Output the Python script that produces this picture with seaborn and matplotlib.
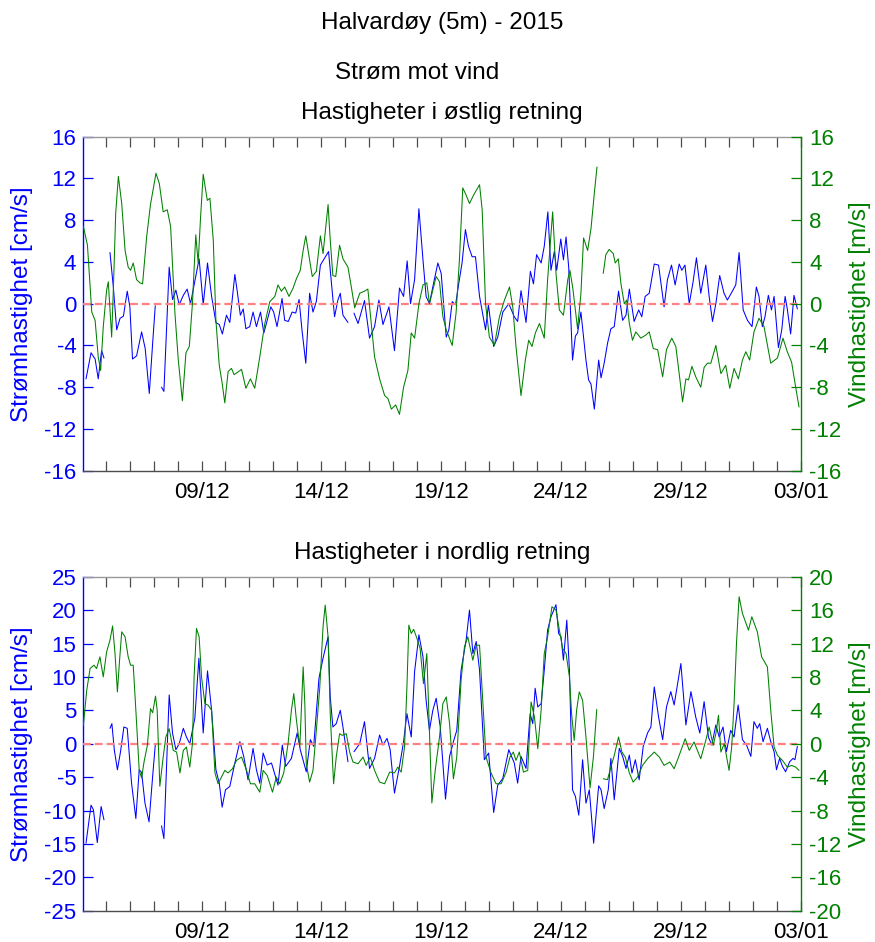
import numpy as np
import pandas as pd
import matplotlib
matplotlib.use("Agg")
import matplotlib.pyplot as plt
import matplotlib.dates as mdates
import seaborn as sns

START = pd.Timestamp("2015-12-04")
NAN = np.nan

# ---- Østlig retning: strøm (cm/s), tid i døgn etter START ----
tid_ost_strom = [0.18, 0.39, 0.56, 0.69, 0.83, 0.93, 1.05, 1.18, 1.32, 1.46, 1.60, 1.74, 1.90, 2.01, 2.12,
                 2.29, 2.50, 2.65, 2.82, 2.96, 3.07, 3.20, 3.33, 3.43, 3.65, 3.79, 3.93, 4.07, 4.24, 4.40,
                 4.54, 4.90, 5.07, 5.25, 5.42, 5.60, 5.74, 5.87, 6.04, 6.18, 6.39, 6.49, 6.62, 6.74, 6.85,
                 7.01, 7.15, 7.29, 7.46, 7.60, 7.74, 7.89, 8.01, 8.15, 8.36, 8.47, 8.62, 8.78, 8.93, 9.07,
                 9.19, 9.35, 9.51, 9.65, 9.79, 9.96, 10.30, 10.55, 10.69, 10.79, 10.90, 11.11, 11.22, 11.36,
                 11.53, 11.80, 12.01, 12.22, 12.40, 12.57, 12.82, 13.05, 13.26, 13.43, 13.58, 13.72, 13.89,
                 14.07, 14.24, 14.37, 14.51, 14.65, 14.86, 15.00, 15.21, 15.32, 15.46, 15.60, 15.73, 15.87,
                 16.01, 16.14, 16.29, 16.43, 16.60, 16.85, 16.97, 17.19, 17.36, 17.57, 17.82, 18.05, 18.19,
                 18.33, 18.54, 18.72, 18.85, 18.98, 19.17, 19.30, 19.45, 19.58, 19.72, 19.82, 19.99, 20.10,
                 20.21, 20.32, 20.48, 20.60, 20.69, 20.83, 21.04, 21.15, 21.25, 21.39, 21.57, 21.67, 21.80,
                 21.94, 22.08, 22.22, 22.40, 22.57, 22.71, 22.85, 23.05, 23.24, 23.37, 23.51, 23.68, 23.89,
                 24.07, 24.30, 24.44, 24.61, 24.76, 24.93, 25.04, 25.17, 25.35, 25.51, 25.65, 25.83, 26.04,
                 26.18, 26.32, 26.46, 26.62, 26.80, 26.94, 27.15, 27.29, 27.43, 27.60, 27.78, 27.97, 28.15,
                 28.26, 28.40, 28.51, 28.65, 28.78, 28.89, 29.07, 29.21, 29.35, 29.44, 29.58, 29.72, 29.86]
ost_strom = [-7.2, -4.7, -5.3, -7.2, -4.5, -5.2, NAN, 4.9, 1.6, -2.5, -1.4, -1.2, 1.2, -0.3, -5.3,
             -5.0, -2.7, -4.3, -8.6, -3.8, -0.2, NAN, -8.0, -8.4, 3.5, 0.4, 1.3, -0.1, 0.8, 1.4,
             0.0, 4.3, -0.1, 3.9, 0.7, -1.8, -2.0, -2.9, -1.1, -1.8, 2.8, 1.2, -1.1, -0.5, -2.4,
             -2.2, -0.8, -2.2, -0.8, -2.8, -1.6, -0.3, -0.8, -2.2, 0.5, -1.6, -1.7, -0.8, -0.9, 0.4,
             -2.5, -5.7, 1.0, -0.8, 0.2, 3.7, 5.0, -1.25, 0.35, 1.0, -1.1, -1.8, NAN, -0.9,
             -1.9, 0.3, -3.3, -2.2, 0.35, -2.0, -0.3, -4.5, 1.5, 0.7, 4.1, 0.0, 2.3,
             9.1, 4.2, 0.7, 0.0, 1.6, 3.9, 2.9, -3.2, -2.5, 0.2, -0.1, 1.9, 3.9,
             7.1, 5.5, 4.5, 4.5, 0.7, -2.5, -0.1, -4.1, -3.2, -0.8, 0.0, -1.25, -1.7,
             1.25, -1.8, 3.1, 1.9, 4.7, 3.9, 5.5, 8.8, 3.2, 5.0, 3.2, 6.2, 4.2,
             6.4, 3.5, -5.4, -3.1, -2.8, -0.8, -5.4, -7.3, -7.7, -10.1, -5.4, -7.1, -5.7,
             -3.8, -2.4, -2.2, 1.2, -1.6, -1.1, 1.4, -1.7, -0.6, -1.25, 0.7, 1.0, 3.8,
             3.7, -0.3, 2.3, 3.7, 1.8, 3.8, 3.2, 3.7, 0.0, 2.1, 4.4, 1.0, 3.7,
             0.7, -1.7, 0.0, 2.7, 1.0, 0.35, 1.2, 1.8, 4.9, -0.6, -1.6, -2.2, 1.6,
             0.7, -2.2, -1.25, 0.8, -0.6, 0.7, -4.2, -2.5, 0.7, -0.5, -2.9, 0.8, -0.5]

# ---- Østlig retning: vind (m/s) ----
tid_ost_vind = [0.07, 0.24, 0.42, 0.56, 0.69, 0.79, 0.90, 1.04, 1.11, 1.25, 1.32, 1.42, 1.53, 1.67, 1.81,
                1.94, 2.04, 2.15, 2.29, 2.43, 2.54, 2.71, 2.87, 3.10, 3.24, 3.40, 3.57, 3.71, 3.89, 4.03,
                4.20, 4.35, 4.49, 4.62, 4.76, 4.86, 4.96, 5.07, 5.24, 5.35, 5.49, 5.60, 5.74, 5.86, 5.97,
                6.11, 6.25, 6.36, 6.67, 6.85, 7.04, 7.22, 7.43, 7.64, 7.85, 8.06, 8.19, 8.33, 8.47, 8.65,
                8.82, 8.96, 9.12, 9.24, 9.35, 9.49, 9.62, 9.79, 9.96, 10.07, 10.28, 10.37, 10.48, 10.60,
                10.76, 10.90, 11.11, 11.25, 11.39, 11.60, 11.80, 11.94, 12.08, 12.22, 12.43, 12.64, 12.78,
                12.92, 13.10, 13.26, 13.43, 13.61, 13.75, 13.89, 14.07, 14.24, 14.40, 14.51, 14.65, 14.79,
                14.93, 15.07, 15.21, 15.46, 15.62, 15.76, 15.90, 16.04, 16.18, 16.35, 16.60, 16.71, 16.85,
                17.01, 17.22, 17.43, 17.64, 17.85, 17.99, 18.12, 18.33, 18.51, 18.65, 18.79, 18.93, 19.10,
                19.30, 19.44, 19.65, 19.79, 19.93, 20.10, 20.28, 20.37, 20.49, 20.69, 20.83, 20.94, 21.11,
                21.25, 21.39, 21.50, 21.62, 21.76, 21.87, 22.01, 22.18, 22.26, 22.39, 22.50, 22.64, 22.74,
                22.85, 22.98, 23.12, 23.33, 23.54, 23.68, 23.85, 24.03, 24.24, 24.40, 24.62, 24.79, 24.93,
                25.07, 25.21, 25.32, 25.46, 25.62, 25.83, 25.97, 26.11, 26.25, 26.46, 26.67, 26.87, 27.04,
                27.22, 27.40, 27.57, 27.71, 27.87, 28.05, 28.26, 28.47, 28.75, 29.03, 29.26, 29.44, 29.62,
                29.79, 29.93]
ost_vind = [7.4, 5.6, -0.8, -1.6, -5.1, -6.4, -2.2, 1.3, 2.1, -3.2, 1.3, 8.7, 12.2, 9.6, 5.1,
            3.5, 3.2, 3.9, 2.3, 2.0, 1.9, 6.4, 9.5, 12.5, 11.5, 8.8, 9.0, 7.4, -0.9, -5.4,
            -9.3, -4.7, -4.1, 0.0, 6.6, 3.9, 8.3, 12.4, 9.9, 10.1, 6.1, -1.6, -5.9, -7.6, -9.5,
            -6.5, -6.2, -6.8, -6.3, -8.1, -7.2, -8.1, -5.1, -1.9, 0.2, 0.7, 1.8, 1.2, 1.6, 0.7,
            1.5, 2.4, 3.2, 5.1, 6.5, 4.5, 2.6, 3.1, 6.5, 4.8, 9.5, 6.1, 2.7, 2.6,
            5.6, 4.3, 3.5, 1.6, -0.4, 1.0, 1.2, 1.4, -1.9, -5.1, -7.2, -8.8, -9.1,
            -10.1, -9.7, -10.6, -8.0, -6.4, -2.8, -3.3, 0.0, 1.8, 2.0, 0.0, 1.3, 2.6,
            2.1, -1.25, -2.5, -4.0, -0.9, 4.2, 11.1, 10.4, 9.6, 10.4, 11.4, 9.0, 0.0,
            -3.2, -4.0, -1.25, 0.35, 1.6, -0.4, -4.1, -8.8, -5.4, -3.5, -4.1, -2.8, -1.9,
            -3.3, 2.3, 8.8, 2.9, -0.6, -1.1, 2.3, 3.2, 1.5, -2.4, 1.0, 6.3, 5.1,
            7.2, 10.6, 13.1, NAN, 2.9, 4.7, 5.2, 4.8, 3.9, 4.3, 1.9, 0.0, 0.35,
            -1.9, -3.5, -2.7, -3.3, -3.0, -2.7, -4.3, -4.4, -7.0, -4.4, -3.3, -4.1, -6.7,
            -9.4, -7.2, -7.3, -6.0, -7.0, -8.0, -6.1, -5.7, -5.7, -4.0, -6.7, -5.9, -8.1,
            -6.2, -7.2, -5.4, -4.6, -5.4, -2.7, -1.4, -2.2, -5.7, -5.2, -3.3, -4.6, -5.6,
            -8.0, -9.9]

# ---- Nordlig retning: strøm (cm/s) ----
tid_nord_strom = [0.18, 0.39, 0.49, 0.65, 0.81, 0.93, 1.05, 1.18, 1.26, 1.36, 1.49, 1.62, 1.76, 1.90, 2.08,
                  2.26, 2.40, 2.50, 2.64, 2.81, 2.96, 3.07, 3.20, 3.33, 3.43, 3.65, 3.79, 3.93, 4.07, 4.24,
                  4.37, 4.51, 4.72, 4.89, 5.07, 5.25, 5.42, 5.60, 5.74, 5.86, 6.00, 6.18, 6.39, 6.60, 6.76,
                  6.94, 7.15, 7.29, 7.43, 7.57, 7.74, 7.92, 8.19, 8.37, 8.51, 8.75, 8.99, 9.12, 9.37, 9.54,
                  9.68, 9.90, 10.07, 10.28, 10.37, 10.48, 10.62, 10.79, 10.90, 11.11, 11.22, 11.36, 11.60,
                  11.80, 12.01, 12.22, 12.43, 12.57, 12.74, 12.87, 13.05, 13.26, 13.43, 13.57, 13.75, 13.89,
                  14.07, 14.24, 14.37, 14.51, 14.65, 14.79, 14.96, 15.18, 15.35, 15.51, 15.65, 15.83, 16.04,
                  16.18, 16.32, 16.46, 16.60, 16.80, 16.98, 17.19, 17.36, 17.57, 17.82, 18.05, 18.19, 18.33,
                  18.54, 18.71, 18.82, 18.92, 19.03, 19.17, 19.30, 19.44, 19.58, 19.79, 19.90, 20.00, 20.10,
                  20.24, 20.35, 20.48, 20.60, 20.74, 20.90, 21.04, 21.18, 21.36, 21.57, 21.67, 21.80, 21.97,
                  22.08, 22.22, 22.43, 22.57, 22.71, 22.85, 22.96, 23.10, 23.26, 23.43, 23.61, 23.75, 23.89,
                  24.07, 24.24, 24.40, 24.58, 24.72, 25.00, 25.21, 25.42, 25.62, 25.79, 25.97, 26.15, 26.29,
                  26.46, 26.60, 26.76, 26.90, 27.08, 27.22, 27.39, 27.57, 27.74, 27.92, 28.05, 28.19, 28.29,
                  28.43, 28.61, 28.75, 28.89, 28.99, 29.12, 29.24, 29.37, 29.54, 29.68, 29.76, 29.86]
nord_strom = [-14.9, -9.2, -9.9, -14.8, -9.4, -11.4, NAN, 2.3, 3.0, -0.9, -3.9, -1.2, 2.5, 2.3, -5.9,
              -11.2, -3.9, -4.3, -8.9, -11.7, -4.9, -0.2, NAN, -12.3, -14.2, 7.3, 1.6, -0.9, 0.0, 2.3,
              1.0, 0.0, 3.8, 12.8, 1.6, 10.9, 5.0, -3.9, -5.9, -9.5, -6.9, -6.4, -2.9, 0.3, -1.9,
              -5.4, -0.7, -3.9, -5.9, -1.4, -3.2, -2.9, -6.2, -0.2, -3.4, -2.2, 1.6, -0.9, -4.2, 0.6,
              -0.4, 9.8, 12.8, 16.0, 7.0, 2.5, 3.0, 5.0, 2.5, -2.7, NAN, -1.2, 0.0,
              3.3, -3.7, -2.2, 1.3, -0.2, 0.8, -0.9, -7.4, -3.4, 0.3, 4.5, 1.0, 10.8,
              16.3, 13.0, 6.5, 2.0, 5.0, 6.8, 2.5, -8.3, -1.9, 0.3, 2.0, 11.0, 15.5,
              20.0, 13.5, 15.3, 11.0, -2.4, -1.4, -10.3, -6.2, -5.2, -0.9, -2.9, -5.9, -1.9,
              -3.7, 4.5, 3.0, 8.3, 5.5, 6.0, 11.0, 17.0, 19.0, 20.8, 16.5, 16.0, 12.5,
              18.5, 11.0, -6.9, -7.9, -10.7, -2.4, -8.9, -6.9, -14.9, -6.3, -6.9, -9.7, -6.9,
              -2.2, -8.4, -0.7, -1.9, -3.7, -1.7, -4.4, -2.4, -5.4, -0.4, 1.6, 2.5, 8.5,
              4.0, 0.6, 5.5, 7.8, 5.8, 12.0, 2.8, 7.8, 4.0, 1.6, 6.3, 1.0, -0.2,
              2.8, 1.0, 2.5, -1.2, 2.0, 1.0, 5.8, 0.6, -0.2, -1.9, 3.3, 2.3, 3.0,
              0.3, 2.3, 0.3, -1.2, -3.9, -2.2, -3.4, -4.2, -2.7, -2.2, -2.4, -0.4]

# ---- Nordlig retning: vind (m/s) ----
tid_nord_vind = [0.07, 0.21, 0.35, 0.51, 0.62, 0.76, 0.90, 1.04, 1.18, 1.29, 1.39, 1.49, 1.57, 1.67, 1.81,
                 1.94, 2.04, 2.15, 2.26, 2.40, 2.50, 2.60, 2.74, 2.87, 2.96, 3.08, 3.15, 3.26, 3.40, 3.51,
                 3.65, 3.82, 3.96, 4.10, 4.24, 4.37, 4.51, 4.62, 4.69, 4.79, 4.90, 5.00, 5.14, 5.28, 5.42,
                 5.56, 5.69, 5.83, 5.97, 6.11, 6.29, 6.46, 6.67, 6.88, 7.04, 7.22, 7.43, 7.57, 7.74, 7.96,
                 8.12, 8.26, 8.43, 8.61, 8.75, 8.85, 8.96, 9.10, 9.24, 9.31, 9.37, 9.51, 9.65, 9.79, 9.93,
                 10.07, 10.16, 10.28, 10.37, 10.51, 10.62, 10.76, 10.87, 11.04, 11.18, 11.32, 11.53, 11.74,
                 11.87, 12.04, 12.22, 12.43, 12.64, 12.85, 13.05, 13.19, 13.33, 13.47, 13.57, 13.65, 13.75,
                 13.85, 13.99, 14.12, 14.26, 14.40, 14.51, 14.61, 14.75, 14.93, 15.07, 15.21, 15.35, 15.51,
                 15.65, 15.83, 15.97, 16.11, 16.32, 16.46, 16.60, 16.74, 16.87, 17.08, 17.29, 17.50, 17.71,
                 17.87, 18.01, 18.12, 18.26, 18.43, 18.61, 18.75, 18.89, 19.03, 19.17, 19.30, 19.44, 19.62,
                 19.79, 19.93, 20.07, 20.21, 20.35, 20.44, 20.55, 20.65, 20.76, 20.90, 21.04, 21.21, 21.35,
                 21.49, 21.62, 21.76, 21.94, 22.08, 22.22, 22.40, 22.54, 22.68, 22.85, 23.01, 23.19, 23.40,
                 23.61, 23.89, 24.10, 24.30, 24.54, 24.72, 24.93, 25.18, 25.35, 25.55, 25.83, 26.04, 26.18,
                 26.35, 26.46, 26.57, 26.67, 26.81, 27.01, 27.12, 27.22, 27.32, 27.43, 27.57, 27.82, 27.96,
                 28.19, 28.37, 28.61, 28.75, 28.89, 29.03, 29.24, 29.44, 29.62, 29.79, 29.93]
nord_vind = [2.2, 6.4, 9.0, 9.4, 9.0, 10.4, 8.0, 11.0, 12.4, 14.1, 10.8, 6.2, 9.6, 13.4, 12.8,
             10.4, 9.4, 9.4, 4.0, -3.2, -4.1, -2.2, -0.2, 4.2, 3.7, 5.7, 4.0, -5.1, -1.6, 0.8,
             1.8, -0.8, -1.0, -3.5, -0.8, -0.4, -2.8, 0.0, 8.0, 13.8, 12.8, 8.0, 4.8, 4.6, 4.0,
             -3.5, -4.8, -4.0, -3.2, -3.5, -3.0, -2.0, -1.6, -3.2, -4.8, -4.8, -5.8, -3.2, -3.8, -5.8,
             -4.0, -4.8, -3.5, 0.0, 4.0, 6.0, 2.8, -0.4, 9.2, 4.8, -2.4, -4.6, -3.2, 1.6, 6.6,
             14.0, 16.6, 12.8, 3.6, -4.8, -1.6, 1.2, 1.0, 1.2, -1.0, -2.2, -2.4, -1.6,
             -2.6, -1.6, -3.2, -4.6, -4.8, -3.4, -3.5, -2.8, -3.4, -0.4, 6.8, 14.2, 13.2,
             13.7, 12.6, 11.4, 7.2, 10.8, 1.6, -7.1, -3.2, 0.8, 4.8, 5.6, 2.4, -4.2,
             -1.6, 7.6, 11.6, 12.8, 10.0, 11.8, 11.8, 4.8, -1.6, -3.5, -4.8, -4.8, -3.4,
             -1.6, -1.0, -2.0, -1.0, -3.4, -3.2, 5.0, 3.2, -0.6, 4.0, 10.8, 12.8, 16.4,
             16.0, 13.6, 11.4, 10.8, 8.0, 3.6, 0.4, 4.0, 6.2, 5.2, 0.8, -5.3, -1.6,
             4.1, NAN, -4.2, -4.3, -2.8, -1.4, 0.8, -1.0, -1.6, -3.5, -4.6, -4.0, -2.6,
             -1.8, -1.0, -1.6, -2.6, -2.2, -3.0, -1.4, 0.6, -0.8, 0.2, -1.8, 0.4, 2.0,
             -0.2, 1.2, 3.4, -1.0, 0.0, -3.2, -0.4, 4.8, 12.0, 17.6, 15.6, 13.6, 15.2,
             13.4, 10.4, 9.2, 4.0, -0.4, -1.4, -2.0, -2.8, -2.6, -2.8, -3.2]

dato_etiketter = ["2015-12-09", "2015-12-14", "2015-12-19", "2015-12-24", "2015-12-29", "2016-01-03"]

BLA = "#0000ff"
GRONN = "#008000"
ROD = "#ff8080"


def serie(tid, verdi):
    """Build a frame with a segment id so that gaps (NaN) break the line."""
    df = pd.DataFrame({"tid": START + pd.to_timedelta(np.asarray(tid), unit="D"),
                       "verdi": np.asarray(verdi, dtype=float)})
    df["seg"] = df["verdi"].isna().cumsum()
    return df.dropna().reset_index(drop=True)


sns.set_style("white")
plt.rcParams["font.family"] = ["Liberation Sans", "DejaVu Sans"]
plt.rcParams["axes.unicode_minus"] = False
plt.rcParams["text.color"] = "black"

W, H = 875, 942
fig = plt.figure(figsize=(W / 100, H / 100), dpi=100)
fig.patch.set_facecolor("white")

L, R = 83.3, 800.7
paneler = [
    dict(top=136.7, bot=470.7, strom=serie(tid_ost_strom, ost_strom), vind=serie(tid_ost_vind, ost_vind),
         ylim_l=(-16, 16), ticks_l=np.arange(-16, 17, 4), ylim_r=(-16, 16), ticks_r=np.arange(-16, 17, 4),
         tittel="Hastigheter i østlig retning", tittel_y=119),
    dict(top=576.7, bot=910.7, strom=serie(tid_nord_strom, nord_strom), vind=serie(tid_nord_vind, nord_vind),
         ylim_l=(-25, 25), ticks_l=np.arange(-25, 26, 5), ylim_r=(-20, 20), ticks_r=np.arange(-20, 21, 4),
         tittel="Hastigheter i nordlig retning", tittel_y=559),
]

x0 = START + pd.Timedelta(days=0.067)
x1 = pd.Timestamp("2016-01-03")
major = [pd.Timestamp(d) for d in dato_etiketter]

TICK_FS = 16
LAB_FS = 17.5

for p in paneler:
    ax = fig.add_axes([L / W, 1 - p["bot"] / H, (R - L) / W, (p["bot"] - p["top"]) / H])
    ax2 = ax.twinx()

    sns.lineplot(data=p["strom"], x="tid", y="verdi", units="seg", estimator=None,
                 color=BLA, lw=0.75, ax=ax, legend=False)
    ax.axhline(0, color=ROD, lw=1.6, ls=(0, (3.5, 1.8)), zorder=3)
    sns.lineplot(data=p["vind"], x="tid", y="verdi", units="seg", estimator=None,
                 color=GRONN, lw=0.75, ax=ax2, legend=False)

    ax.set_xlabel("")
    ax.set_ylabel("")
    ax2.set_ylabel("")

    ax.set_xlim(x0, x1)
    ax.set_ylim(*p["ylim_l"])
    ax.set_yticks(p["ticks_l"])
    ax2.set_ylim(*p["ylim_r"])
    ax2.set_yticks(p["ticks_r"])

    ax.set_xticks(major)
    ax.xaxis.set_major_formatter(mdates.DateFormatter("%d/%m"))
    ax.xaxis.set_minor_locator(mdates.DayLocator())
    ax.tick_params(axis="x", which="both", direction="in", length=7, width=0.9,
                   top=True, bottom=True, color="0.3", labelcolor="black", labelsize=TICK_FS, pad=8)
    ax.tick_params(axis="y", which="both", direction="in", length=7, width=0.9,
                   left=True, right=False, color=BLA, labelcolor=BLA, labelsize=TICK_FS, pad=5)
    ax2.tick_params(axis="y", which="both", direction="in", length=7, width=0.9,
                    right=True, left=False, color=GRONN, labelcolor=GRONN, labelsize=TICK_FS, pad=6)

    for s in ["left", "right", "top", "bottom"]:
        ax.spines[s].set_linewidth(1.0)
        ax2.spines[s].set_linewidth(1.0)
    ax.spines["left"].set_color(BLA)
    ax.spines["right"].set_visible(False)
    ax.spines["top"].set_color("0.6")
    ax.spines["bottom"].set_color("0.3")
    for s in ["left", "top", "bottom"]:
        ax2.spines[s].set_visible(False)
    ax2.spines["right"].set_color(GRONN)

    midt = 1 - (p["top"] + p["bot"]) / 2 / H
    fig.text(22 / W, midt, "Strømhastighet [cm/s]", rotation=90, ha="center", va="center",
             color=BLA, fontsize=LAB_FS)
    fig.text(860 / W, midt, "Vindhastighet [m/s]", rotation=90, ha="center", va="center",
             color=GRONN, fontsize=LAB_FS)
    fig.text(442 / W, 1 - p["tittel_y"] / H, p["tittel"], ha="center", va="baseline",
             color="black", fontsize=LAB_FS)

fig.text(442 / W, 1 - 29 / H, "Halvardøy (5m) - 2015", ha="center", va="baseline",
         color="black", fontsize=LAB_FS)
fig.text(417 / W, 1 - 79 / H, "Strøm mot vind", ha="center", va="baseline",
         color="black", fontsize=LAB_FS)

fig.savefig("out.png", dpi=100, facecolor="white")
